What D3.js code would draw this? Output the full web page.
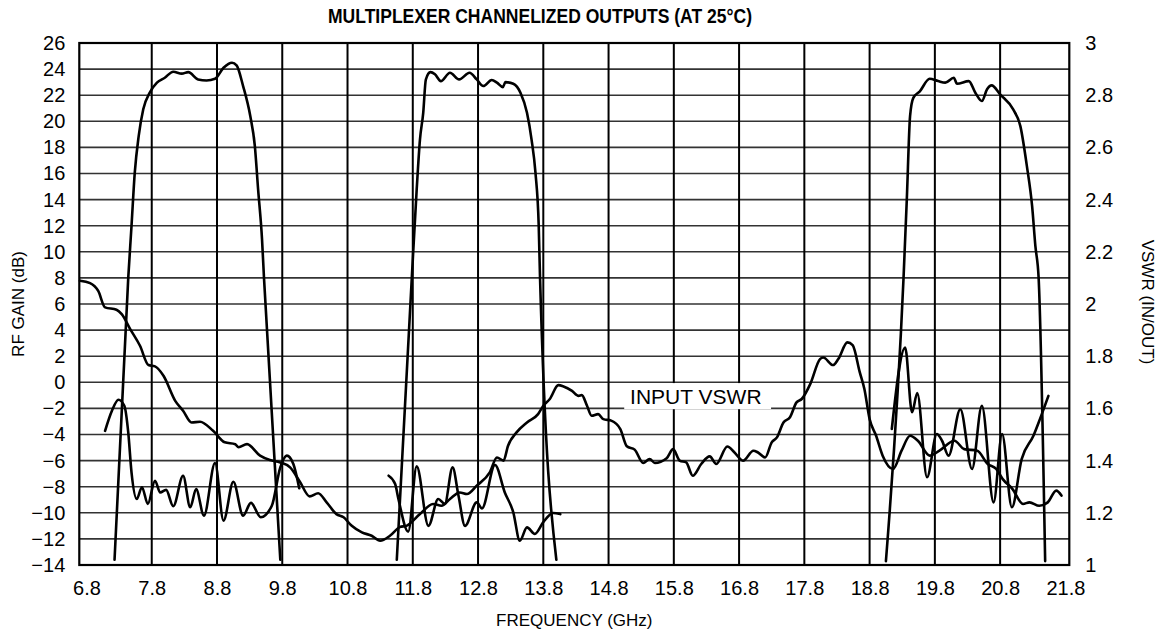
<!DOCTYPE html>
<html>
<head>
<meta charset="utf-8">
<script src="https://cdn.jsdelivr.net/npm/d3@7"></script>
<style>
  body { margin: 0; background: #fff; }
  svg { display: block; font-family: 'Liberation Sans', Arial, Helvetica, sans-serif; }
  .grid-h { stroke: #333; stroke-width: 1.6; }
  .grid-v { stroke: #000; stroke-width: 2; }
  .frame { fill: none; stroke: #000; stroke-width: 2.2; }
  .curve { fill: none; stroke: #000; stroke-width: 2.6; stroke-linejoin: round; stroke-linecap: round; }
  .axis text { fill: #000; font-size: 20px; }
</style>
</head>
<body>
<svg width="1164" height="632"></svg>
<script>
/* global d3 */

// axis ticks
const freqTicks = [6.8, 7.8, 8.8, 9.8, 10.8, 11.8, 12.8, 13.8, 14.8, 15.8, 16.8, 17.8, 18.8, 19.8, 20.8, 21.8];
const gainTicks = [-14, -12, -10, -8, -6, -4, -2, 0, 2, 4, 6, 8, 10, 12, 14, 16, 18, 20, 22, 24, 26];
const vswrTicks = [1, 1.2, 1.4, 1.6, 1.8, 2, 2.2, 2.4, 2.6, 2.8, 3];

// channel gain, [GHz, dB]
const gainCh1 = [
  [7.23, -13.6], [7.44, 8.0], [7.49, 11.98], [7.54, 16.07], [7.60, 18.87], [7.67, 20.93],
  [7.77, 22.2], [7.88, 22.96], [8.00, 23.34], [8.13, 23.8], [8.26, 23.65], [8.36, 23.77],
  [8.51, 23.21], [8.64, 23.13], [8.77, 23.26], [8.90, 24.1], [9.03, 24.49], [9.10, 24.28],
  [9.20, 22.7], [9.31, 20.4], [9.38, 18.1], [9.43, 14.78], [9.49, 10.95], [9.52, 8.0], [9.77, -13.6]
];
const gainCh2 = [
  [11.555, -13.6], [11.785, 8.0], [11.86, 14.78], [11.91, 18.6], [11.96, 20.65], [12.00, 23.2],
  [12.07, 23.77], [12.14, 23.6], [12.23, 23.08], [12.37, 23.72], [12.51, 23.21], [12.67, 23.72],
  [12.78, 23.21], [12.88, 22.7], [13.01, 23.16], [13.09, 22.96], [13.18, 22.62], [13.22, 23.0],
  [13.34, 22.88], [13.45, 22.19], [13.55, 20.65], [13.62, 18.6], [13.68, 16.06], [13.73, 11.97],
  [13.75, 8.0], [14.00, -13.6]
];
const gainCh3 = [
  [19.05, -13.7], [19.32, 8.0], [19.37, 14.0], [19.42, 20.4], [19.47, 21.8], [19.57, 22.3],
  [19.72, 23.26], [19.85, 23.08], [19.96, 22.96], [20.09, 23.34], [20.14, 22.88], [20.32, 23.08],
  [20.42, 22.19], [20.52, 21.55], [20.60, 22.45], [20.67, 22.75], [20.80, 22.06], [21.00, 20.91],
  [21.11, 19.63], [21.21, 16.57], [21.29, 13.51], [21.34, 10.45], [21.39, 8.0], [21.49, -13.7]
];

// input vswr, [GHz, VSWR]
const inputVswr = [
  [6.70, 2.089], [6.855, 2.08], [6.98, 2.05], [7.085, 1.987], [7.26, 1.978], [7.34, 1.961],
  [7.47, 1.904], [7.62, 1.840], [7.75, 1.766], [7.85, 1.761], [7.98, 1.725], [8.16, 1.629],
  [8.28, 1.591], [8.41, 1.546], [8.54, 1.549], [8.74, 1.514], [8.92, 1.470], [9.08, 1.463],
  [9.13, 1.451], [9.26, 1.463], [9.46, 1.419], [9.61, 1.402], [9.77, 1.393], [9.92, 1.374],
  [10.07, 1.319], [10.22, 1.263], [10.35, 1.275], [10.48, 1.240], [10.63, 1.195], [10.74, 1.183],
  [10.86, 1.151], [11.02, 1.125], [11.17, 1.112], [11.30, 1.093], [11.45, 1.112], [11.6, 1.145],
  [11.71, 1.151], [11.91, 1.195], [12.11, 1.234], [12.24, 1.227], [12.37, 1.253], [12.52, 1.278],
  [12.63, 1.272], [12.78, 1.304], [12.98, 1.355], [13.09, 1.412], [13.19, 1.400], [13.26, 1.457],
  [13.39, 1.508], [13.55, 1.546], [13.72, 1.578], [13.80, 1.610], [13.90, 1.636], [14.03, 1.689],
  [14.11, 1.684], [14.24, 1.667], [14.34, 1.648], [14.39, 1.651], [14.47, 1.610], [14.54, 1.572],
  [14.64, 1.578], [14.72, 1.559], [14.84, 1.553], [14.98, 1.521], [15.08, 1.455], [15.2, 1.442],
  [15.33, 1.391], [15.43, 1.406], [15.51, 1.391], [15.69, 1.409], [15.79, 1.444], [15.89, 1.400],
  [15.99, 1.393], [16.09, 1.342], [16.22, 1.387], [16.35, 1.416], [16.45, 1.387], [16.62, 1.454],
  [16.73, 1.431], [16.86, 1.400], [17.02, 1.438], [17.09, 1.431], [17.2, 1.412], [17.3, 1.470],
  [17.38, 1.489], [17.48, 1.546], [17.58, 1.566], [17.68, 1.623], [17.76, 1.636], [17.89, 1.693],
  [18.04, 1.789], [18.09, 1.795], [18.24, 1.766], [18.32, 1.789], [18.46, 1.853], [18.54, 1.842],
  [18.65, 1.738], [18.72, 1.674], [18.80, 1.559], [18.90, 1.495], [19.0, 1.419], [19.16, 1.368],
  [19.29, 1.438], [19.42, 1.495], [19.54, 1.476], [19.72, 1.419], [19.87, 1.438], [20.10, 1.476],
  [20.25, 1.444], [20.45, 1.438], [20.61, 1.387], [20.74, 1.368], [20.84, 1.329], [20.99, 1.291],
  [21.15, 1.234], [21.25, 1.240], [21.40, 1.227], [21.53, 1.240], [21.66, 1.285], [21.74, 1.266]
];

// output vswr per channel, [GHz, VSWR]
const outVswrCh1 = [
  [7.085, 1.514], [7.19, 1.591], [7.29, 1.633], [7.38, 1.610], [7.44, 1.508], [7.49, 1.355],
  [7.57, 1.253], [7.65, 1.298], [7.74, 1.234], [7.85, 1.323], [7.93, 1.278], [8.02, 1.288],
  [8.13, 1.225], [8.28, 1.342], [8.39, 1.221], [8.48, 1.291], [8.60, 1.189], [8.77, 1.391],
  [8.90, 1.170], [9.05, 1.319], [9.20, 1.189], [9.32, 1.238], [9.47, 1.183], [9.64, 1.227],
  [9.77, 1.374], [9.87, 1.419], [9.97, 1.387], [10.06, 1.294]
];
const outVswrCh2 = [
  [11.43, 1.342], [11.53, 1.31], [11.58, 1.253], [11.73, 1.128], [11.86, 1.378], [12.04, 1.15],
  [12.19, 1.253], [12.29, 1.234], [12.41, 1.374], [12.50, 1.266], [12.60, 1.15], [12.78, 1.24],
  [12.86, 1.217], [13.06, 1.383], [13.21, 1.278], [13.34, 1.202], [13.44, 1.093], [13.55, 1.144],
  [13.67, 1.119], [13.80, 1.164], [13.95, 1.199], [14.06, 1.195]
];
const outVswrCh3 = [
  [19.14, 1.521], [19.345, 1.833], [19.45, 1.585], [19.53, 1.659], [19.68, 1.336], [19.83, 1.502],
  [19.91, 1.476], [20.01, 1.419], [20.19, 1.597], [20.37, 1.368], [20.52, 1.61], [20.70, 1.24],
  [20.83, 1.502], [20.98, 1.221], [21.13, 1.406], [21.31, 1.495], [21.41, 1.559], [21.54, 1.648]
];

const svg = d3.select('svg');

const x = d3.scaleLinear().domain([6.69, 21.86]).range([79.3, 1069.3]);
const yGain = d3.scaleLinear().domain([-14, 26]).range([565, 43]);
const yVswr = d3.scaleLinear().domain([1, 3]).range([565, 43]);

// grid
svg.append('g')
  .selectAll('line')
  .data(gainTicks.slice(1, -1))
  .enter()
  .append('line')
  .attr('class', 'grid-h')
  .attr('x1', x.range()[0])
  .attr('x2', x.range()[1])
  .attr('y1', d => yGain(d))
  .attr('y2', d => yGain(d));

svg.append('g')
  .selectAll('line')
  .data(freqTicks.slice(1, -1))
  .enter()
  .append('line')
  .attr('class', 'grid-v')
  .attr('x1', d => x(d))
  .attr('x2', d => x(d))
  .attr('y1', yGain.range()[0])
  .attr('y2', yGain.range()[1]);

svg.append('rect')
  .attr('class', 'frame')
  .attr('x', x.range()[0])
  .attr('y', yGain.range()[1])
  .attr('width', x.range()[1] - x.range()[0])
  .attr('height', yGain.range()[0] - yGain.range()[1]);

// axes
const axisB = svg.append('g')
  .attr('class', 'axis')
  .attr('transform', `translate(0,${yGain.range()[0]})`)
  .call(d3.axisBottom(x).tickValues(freqTicks).tickFormat(d3.format('.1f')).tickSize(0).tickPadding(16));
const axisL = svg.append('g')
  .attr('class', 'axis')
  .attr('transform', `translate(${x.range()[0]},0)`)
  .call(d3.axisLeft(yGain).tickValues(gainTicks).tickSize(0).tickPadding(14));
const axisR = svg.append('g')
  .attr('class', 'axis')
  .attr('transform', `translate(${x.range()[1]},0)`)
  .call(d3.axisRight(yVswr).tickValues(vswrTicks).tickFormat(d => String(d)).tickSize(0).tickPadding(16));
[axisB, axisL, axisR].forEach(a => {
  a.select('.domain').remove();
  a.attr('font-family', null).attr('font-size', null);
});

// curves
const line = d3.line().curve(d3.curveMonotoneX);
const gainLine = line.x(d => x(d[0])).y(d => yGain(d[1]));
const plotGain = [gainCh1, gainCh2, gainCh3];
svg.append('g')
  .selectAll('path')
  .data(plotGain)
  .enter()
  .append('path')
  .attr('class', 'curve')
  .attr('d', d => gainLine(d));

const vswrLine = d3.line().curve(d3.curveMonotoneX)
  .x(d => x(d[0]))
  .y(d => yVswr(d[1]));
svg.append('g')
  .selectAll('path')
  .data([inputVswr, outVswrCh1, outVswrCh2, outVswrCh3])
  .enter()
  .append('path')
  .attr('class', 'curve')
  .attr('d', d => vswrLine(d));

// input vswr label
svg.append('rect')
  .attr('x', x(15.04))
  .attr('y', yVswr(1.697))
  .attr('width', x(17.29) - x(15.04))
  .attr('height', yVswr(1.597) - yVswr(1.697))
  .attr('fill', '#fff');
svg.append('text')
  .attr('x', x(15.13))
  .attr('y', yVswr(1.6) - 4)
  .attr('font-size', 21)
  .text('INPUT VSWR');

// titles
svg.append('text')
  .attr('x', 328)
  .attr('y', 23)
  .attr('font-family', '"Liberation Sans Narrow", "Arial Narrow", sans-serif')
  .attr('font-weight', 'bold')
  .attr('font-size', 20.5)
  .attr('textLength', 424)
  .attr('lengthAdjust', 'spacingAndGlyphs')
  .text('MULTIPLEXER CHANNELIZED OUTPUTS (AT 25°C)');

svg.append('text')
  .attr('x', (x.range()[0] + x.range()[1]) / 2)
  .attr('y', 626)
  .attr('text-anchor', 'middle')
  .attr('font-size', 17)
  .text('FREQUENCY (GHz)');

svg.append('text')
  .attr('transform', 'translate(24,304) rotate(-90)')
  .attr('text-anchor', 'middle')
  .attr('font-size', 17)
  .text('RF GAIN (dB)');

svg.append('text')
  .attr('transform', 'translate(1142,302) rotate(90)')
  .attr('text-anchor', 'middle')
  .attr('font-size', 17)
  .text('VSWR (IN/OUT)');
</script>
</body>
</html>
